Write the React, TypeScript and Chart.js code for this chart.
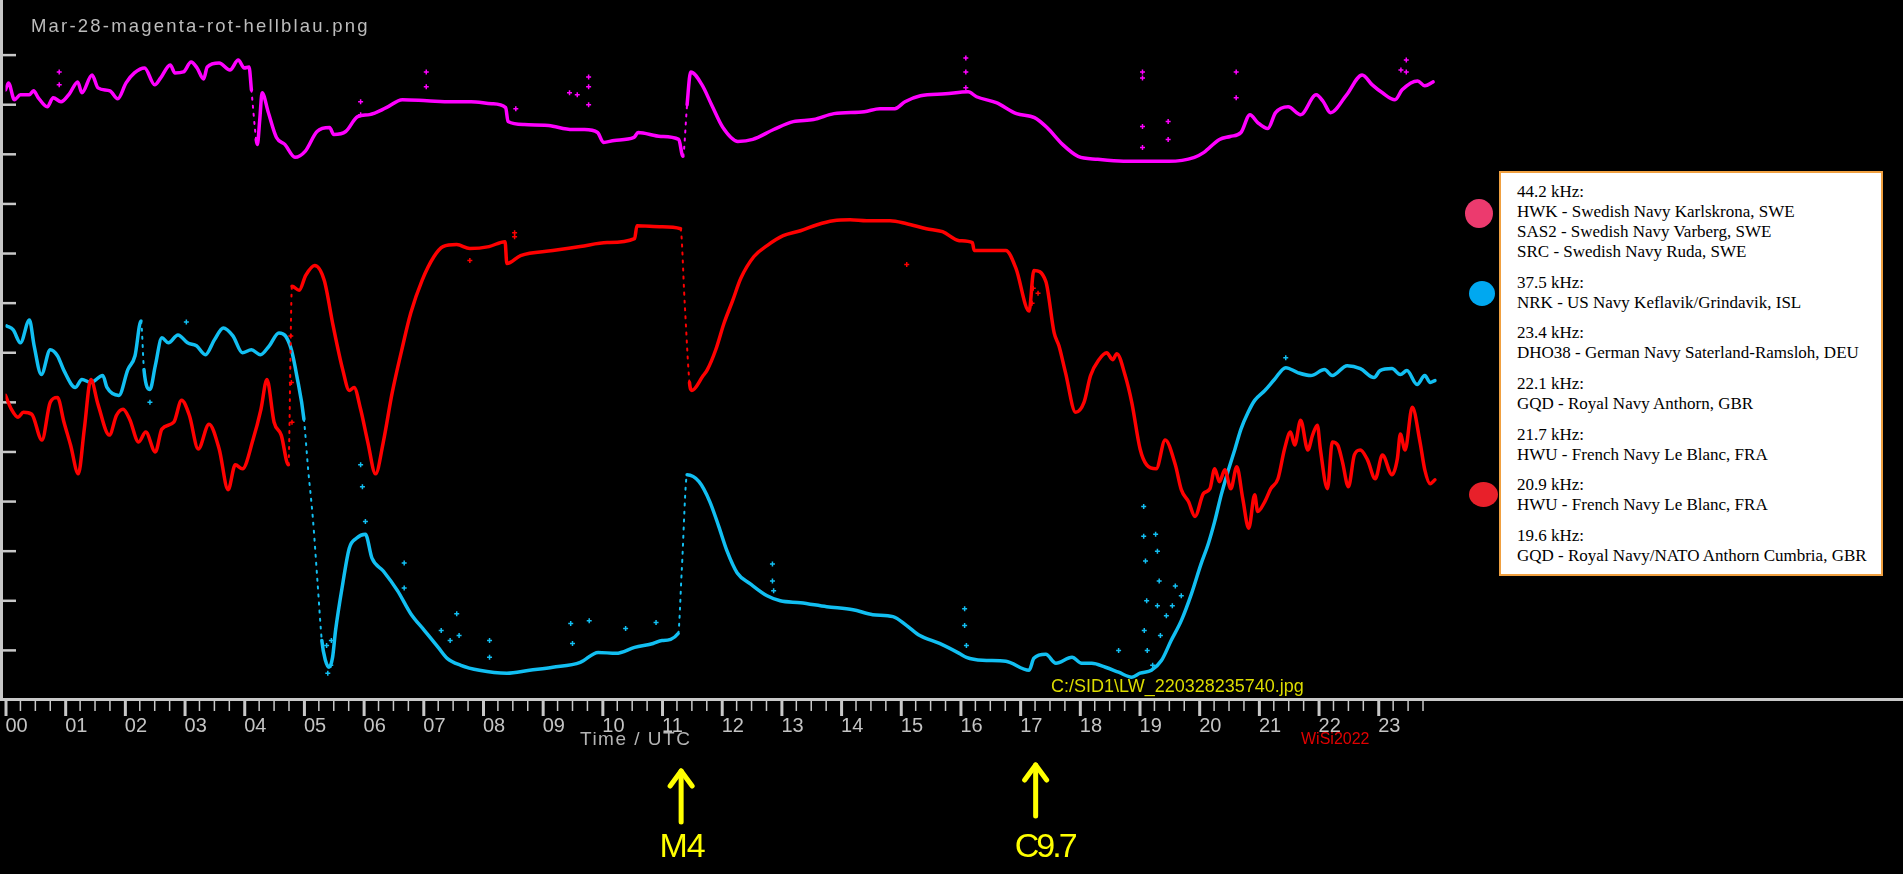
import { useEffect, useRef } from 'react';
import { Chart, registerables } from 'chart.js';

Chart.register(...registerables);

// ---------- data (x = hour UTC, y = relative signal level, 1 unit = one axis tick) ----------
const hourLabels = ['00','01','02','03','04','05','06','07','08','09','10','11','12','13','14','15','16','17','18','19','20','21','22','23'];

const magentaData: [number, number][] = [
  [0.00,12.30],[0.05,12.44],[0.15,12.10],[0.25,12.20],[0.40,12.20],[0.47,12.28],[0.55,12.14],[0.70,11.96],[0.80,12.14],[0.93,12.06],
  [1.07,12.22],[1.21,12.46],[1.28,12.24],[1.45,12.60],[1.55,12.34],[1.75,12.28],[1.88,12.12],[2.02,12.44],[2.16,12.64],[2.33,12.74],
  [2.50,12.40],[2.60,12.54],[2.76,12.80],[2.84,12.64],[2.98,12.66],[3.11,12.86],[3.21,12.74],[3.32,12.52],[3.38,12.76],[3.58,12.84],
  [3.76,12.70],[3.90,12.90],[4.00,12.74],[4.08,12.76],[4.12,12.30],[4.20,11.30],[4.22,11.20],[4.26,11.70],[4.30,12.24],[4.40,11.86],
  [4.54,11.34],[4.68,11.20],[4.85,10.94],[5.02,11.06],[5.22,11.46],[5.43,11.54],[5.50,11.40],[5.70,11.46],[5.90,11.76],[6.10,11.80],
  [6.38,11.94],[6.65,12.10],[7.06,12.08],[7.47,12.06],[7.80,12.06],[8.15,12.02],[8.38,11.94],[8.42,11.66],[8.69,11.60],[9.10,11.58],
  [9.50,11.50],[9.70,11.50],[9.92,11.44],[10.02,11.24],[10.20,11.28],[10.53,11.34],[10.60,11.44],[10.98,11.36],[11.28,11.30],[11.35,10.96],
  [11.42,12.00],[11.48,12.66],[11.67,12.40],[11.83,12.00],[12.02,11.54],[12.27,11.26],[12.52,11.30],[12.87,11.50],[13.20,11.66],[13.54,11.70],
  [13.88,11.82],[14.39,11.86],[14.65,11.92],[14.90,11.92],[15.07,12.06],[15.33,12.18],[15.75,12.22],[16.13,12.26],[16.27,12.16],[16.60,12.04],
  [16.94,11.82],[17.24,11.74],[17.45,11.54],[17.71,11.20],[17.97,10.96],[18.30,10.90],[18.73,10.86],[19.03,10.86],[19.49,10.86],[19.92,10.94],
  [20.08,11.04],[20.34,11.30],[20.52,11.36],[20.70,11.44],[20.85,11.80],[20.98,11.64],[21.15,11.52],[21.28,11.84],[21.49,11.96],[21.70,11.80],
  [21.96,12.20],[22.08,12.06],[22.20,11.84],[22.47,12.20],[22.73,12.60],[22.90,12.40],[23.07,12.24],[23.28,12.10],[23.40,12.30],[23.66,12.48],
  [23.78,12.38],[23.92,12.46],
];

const redData: [number, number][] = [
  [0.00,6.14],[0.10,5.86],[0.21,5.70],[0.30,5.80],[0.44,5.76],[0.61,5.24],[0.75,6.00],[0.87,6.10],[0.98,5.60],[1.09,5.14],
  [1.22,4.56],[1.32,5.46],[1.43,6.46],[1.55,5.96],[1.74,5.34],[1.86,5.74],[1.97,5.86],[2.08,5.66],[2.23,5.20],[2.35,5.40],
  [2.51,5.00],[2.62,5.46],[2.82,5.60],[2.95,6.04],[3.08,5.74],[3.23,5.06],[3.41,5.56],[3.58,5.06],[3.73,4.24],[3.85,4.74],
  [3.97,4.66],[4.15,5.26],[4.28,5.86],[4.38,6.46],[4.50,5.60],[4.62,5.34],[4.74,4.74],[4.80,8.34],[4.92,8.26],[5.03,8.56],
  [5.18,8.76],[5.34,8.46],[5.49,7.54],[5.65,6.66],[5.76,6.24],[5.84,6.30],[5.95,5.86],[6.07,5.20],[6.20,4.56],[6.33,5.20],
  [6.48,6.20],[6.64,7.06],[6.79,7.80],[6.98,8.46],[7.18,8.94],[7.33,9.14],[7.56,9.18],[7.78,9.10],[8.10,9.14],[8.37,9.24],
  [8.40,8.80],[8.63,8.96],[9.17,9.06],[9.63,9.14],[10.08,9.22],[10.54,9.30],[10.58,9.56],[11.00,9.54],[11.31,9.50],[11.38,8.00],
  [11.46,6.40],[11.50,6.24],[11.69,6.54],[11.76,6.66],[11.90,7.06],[12.04,7.60],[12.18,8.04],[12.32,8.50],[12.54,8.94],[12.76,9.16],
  [13.03,9.36],[13.32,9.46],[13.60,9.58],[13.87,9.66],[14.15,9.68],[14.43,9.66],[14.82,9.66],[15.10,9.60],[15.43,9.50],[15.70,9.44],
  [15.98,9.26],[16.20,9.22],[16.23,9.06],[16.76,9.06],[16.93,8.70],[17.15,7.84],[17.23,8.66],[17.43,8.44],[17.57,7.40],[17.65,7.14],
  [17.76,6.60],[17.93,5.80],[18.07,6.00],[18.18,6.54],[18.32,6.86],[18.45,7.00],[18.55,6.86],[18.62,6.98],[18.76,6.54],[18.87,6.00],
  [19.01,5.06],[19.12,4.74],[19.28,4.66],[19.43,5.24],[19.60,4.74],[19.70,4.24],[19.82,4.00],[19.93,3.70],[20.07,4.16],[20.18,4.26],
  [20.26,4.66],[20.34,4.40],[20.43,4.64],[20.53,4.26],[20.63,4.70],[20.73,4.06],[20.83,3.46],[20.93,4.14],[20.98,3.80],[21.10,4.00],
  [21.20,4.26],[21.32,4.46],[21.43,5.06],[21.53,5.40],[21.60,5.14],[21.70,5.64],[21.82,5.04],[21.90,5.34],[21.98,5.54],[22.03,5.06],
  [22.15,4.26],[22.23,5.20],[22.32,5.14],[22.40,4.80],[22.50,4.30],[22.60,4.94],[22.70,5.04],[22.82,4.84],[22.95,4.46],[23.07,4.94],
  [23.23,4.54],[23.32,4.86],[23.37,5.36],[23.45,5.04],[23.57,5.90],[23.70,5.20],[23.78,4.64],[23.87,4.36],[23.95,4.44],
];

const blueData: [number, number][] = [
  [0.02,7.54],[0.13,7.46],[0.25,7.20],[0.40,7.66],[0.48,7.14],[0.60,6.56],[0.75,7.06],[0.87,6.94],[0.98,6.64],[1.17,6.30],
  [1.28,6.46],[1.43,6.40],[1.63,6.54],[1.70,6.30],[1.90,6.14],[2.05,6.66],[2.17,6.94],[2.27,7.64],[2.32,6.66],[2.42,6.26],
  [2.51,6.74],[2.62,7.30],[2.73,7.20],[2.89,7.36],[3.05,7.20],[3.20,7.14],[3.35,6.96],[3.50,7.26],[3.65,7.50],[3.81,7.34],
  [3.97,7.00],[4.12,7.06],[4.27,6.96],[4.42,7.14],[4.58,7.40],[4.69,7.34],[4.79,7.06],[4.88,6.54],[5.00,5.66],[5.07,4.66],
  [5.15,3.66],[5.23,2.34],[5.30,1.20],[5.36,0.80],[5.42,0.66],[5.48,0.86],[5.53,1.40],[5.65,2.34],[5.76,3.06],[5.88,3.26],[6.03,3.34],[6.14,2.86],
  [6.33,2.60],[6.57,2.20],[6.79,1.74],[7.02,1.40],[7.25,1.06],[7.40,0.84],[7.63,0.70],[7.94,0.60],[8.40,0.54],[8.78,0.60],
  [9.17,0.66],[9.63,0.76],[9.93,0.96],[10.23,0.94],[10.54,1.06],[10.85,1.14],[11.00,1.20],[11.27,1.34],[11.33,2.60],[11.42,4.54],
  [11.62,4.40],[11.80,4.00],[11.95,3.50],[12.09,3.00],[12.26,2.56],[12.48,2.34],[12.76,2.10],[12.98,2.00],[13.32,1.96],[13.76,1.88],
  [14.20,1.82],[14.53,1.72],[14.87,1.68],[15.10,1.50],[15.32,1.30],[15.65,1.14],[15.98,0.94],[16.10,0.86],[16.37,0.80],[16.76,0.78],
  [17.15,0.60],[17.23,0.84],[17.43,0.92],[17.60,0.74],[17.87,0.86],[18.03,0.74],[18.20,0.74],[18.43,0.66],[18.65,0.56],[18.87,0.46],
  [19.01,0.54],[19.20,0.60],[19.37,0.80],[19.53,1.20],[19.70,1.60],[19.87,2.14],[20.03,2.74],[20.15,3.14],[20.26,3.60],[20.37,4.14],
  [20.48,4.60],[20.60,5.06],[20.70,5.46],[20.82,5.80],[20.93,6.04],[21.10,6.24],[21.26,6.46],[21.45,6.70],[21.65,6.60],[21.87,6.54],
  [22.10,6.66],[22.23,6.54],[22.48,6.74],[22.70,6.68],[22.93,6.50],[23.03,6.64],[23.23,6.68],[23.37,6.56],[23.48,6.64],[23.65,6.36],
  [23.78,6.54],[23.87,6.40],[23.95,6.44],
];

// isolated scattered readings
const magentaStray: [number, number][] = [
  [0.90,12.66],[0.90,12.40],[5.95,12.06],[5.95,11.80],[7.05,12.66],[7.05,12.36],[8.55,11.92],[9.45,12.24],[9.58,12.20],[9.77,12.56],
  [9.77,12.36],[9.77,12.00],[16.09,12.94],[16.09,12.66],[16.09,12.34],[19.05,12.66],[19.05,12.54],[19.05,11.56],[19.05,11.14],[19.48,11.66],
  [19.48,11.30],[20.62,12.66],[20.62,12.14],[23.38,12.70],[23.47,12.90],[23.47,12.66],
];
const redStray: [number, number][] = [
  [7.78,8.86],[8.53,9.34],[8.53,9.42],[15.10,8.78],[17.20,8.00],[17.22,8.30],[17.30,8.20],[4.78,7.34],[4.79,6.40],[4.80,5.60],
];
const blueStray: [number, number][] = [
  [2.42,6.00],[3.03,7.62],[5.95,4.74],[5.98,4.30],[6.03,3.60],[5.40,0.54],[5.45,0.70],[5.38,1.10],[5.46,1.20],[6.68,2.76],[6.68,2.26],[7.30,1.40],
  [7.45,1.20],[7.56,1.74],[7.60,1.30],[8.11,1.20],[8.11,0.86],[9.47,1.54],[9.50,1.14],[9.78,1.60],[10.39,1.44],[10.90,1.56],
  [12.85,2.74],[12.85,2.40],[12.87,2.20],[16.07,1.84],[16.07,1.50],[16.10,1.10],[18.65,1.00],[19.07,3.90],[19.07,3.30],[19.10,2.80],
  [19.12,2.00],[19.08,1.40],[19.13,1.00],[19.27,3.34],[19.30,3.00],[19.33,2.40],[19.30,1.90],[19.35,1.30],[19.22,0.70],[19.45,1.70],
  [19.55,1.90],[19.60,2.30],[19.70,2.10],[21.45,6.90],
];

const flareTimes = [11.32, 17.26];
const flareLabels = ['M4', 'C9.7'];

const legendFreqs = ['44.2 kHz:', '37.5 kHz:', '23.4 kHz:', '22.1 kHz:', '21.7 kHz:', '20.9 kHz:', '19.6 kHz:'];
const legendStations = [
  ['HWK - Swedish Navy Karlskrona, SWE', 'SAS2 - Swedish Navy Varberg, SWE', 'SRC - Swedish Navy Ruda, SWE'],
  ['NRK - US Navy Keflavik/Grindavik, ISL'],
  ['DHO38 - German Navy Saterland-Ramsloh, DEU'],
  ['GQD - Royal Navy Anthorn, GBR'],
  ['HWU - French Navy Le Blanc, FRA'],
  ['HWU - French Navy Le Blanc, FRA'],
  ['GQD - Royal Navy/NATO Anthorn Cumbria, GBR'],
];

const W = 1903;
const H = 874;
const MAGENTA = '#ff00ff';
const RED = '#ff0000';
const BLUE = '#12bff2';
const AXIS = '#c8c8c8';

export default function App() {
  const ref = useRef<HTMLCanvasElement>(null);

  useEffect(() => {
    document.body.style.margin = '0';
    document.body.style.background = '#000';
    const toXY = (a: [number, number][]) => a.map(([x, y]) => ({ x, y }));
    const steep = (c: any) => {
      const dx = Math.abs(c.p1.x - c.p0.x);
      const dy = Math.abs(c.p1.y - c.p0.y);
      return dy > 48 && dy > 9 * dx;
    };
    const mainDs = (label: string, data: [number, number][], color: string) => ({
      label,
      data: toXY(data),
      borderColor: color,
      backgroundColor: color,
      borderWidth: 3.5,
      pointRadius: 0,
      cubicInterpolationMode: 'monotone',
      fill: false,
      borderJoinStyle: 'round',
      borderCapStyle: 'round',
      segment: {
        borderDash: (c: any) => (steep(c) ? [2, 6] : undefined),
        borderWidth: (c: any) => (steep(c) ? 2 : undefined),
      },
    });
    const strayDs = (label: string, data: [number, number][], color: string) => ({
      label,
      data: toXY(data),
      showLine: false,
      pointStyle: 'cross',
      pointRadius: 2.5,
      pointBorderWidth: 1.5,
      borderColor: color,
      backgroundColor: color,
    });

    const decor = {
      id: 'decor',
      beforeDatasetsDraw(chart: any) {
        const ctx = chart.ctx;
        const xs = chart.scales.x;
        const ys = chart.scales.y;
        const y0 = ys.getPixelForValue(0);
        ctx.save();
        ctx.strokeStyle = AXIS;
        ctx.lineCap = 'butt';
        // y axis
        ctx.lineWidth = 3;
        ctx.beginPath();
        ctx.moveTo(1.5, 0);
        ctx.lineTo(1.5, y0 + 1);
        ctx.stroke();
        ctx.lineWidth = 2.5;
        for (let v = 1; v <= 13; v++) {
          const py = ys.getPixelForValue(v);
          ctx.beginPath();
          ctx.moveTo(0, py);
          ctx.lineTo(16, py);
          ctx.stroke();
        }
        // x axis
        ctx.lineWidth = 3;
        ctx.beginPath();
        ctx.moveTo(0, y0 - 0.5);
        ctx.lineTo(W, y0 - 0.5);
        ctx.stroke();
        for (let q = 0; q < hourLabels.length * 4; q++) {
          const px = xs.getPixelForValue(q / 4);
          const major = q % 4 === 0;
          ctx.lineWidth = major ? 3 : 1.5;
          ctx.beginPath();
          ctx.moveTo(px + (major ? 0.5 : 0), y0 + 1);
          ctx.lineTo(px + (major ? 0.5 : 0), y0 + (major ? 16 : 11));
          ctx.stroke();
        }
        ctx.restore();
      },
      afterDraw(chart: any) {
        const ctx = chart.ctx;
        const xs = chart.scales.x;
        ctx.save();
        ctx.textBaseline = 'alphabetic';
        // hour labels
        ctx.fillStyle = '#c4c4c4';
        ctx.font = '20px "Liberation Sans", Arial, sans-serif';
        ctx.textAlign = 'left';
        hourLabels.forEach((lab, i) => {
          ctx.fillText(lab, xs.getPixelForValue(i), 732);
        });
        // axis title
        ctx.fillStyle = '#b4b4b4';
        (ctx as any).letterSpacing = '1.5px';
        ctx.font = '19px "Liberation Sans", Arial, sans-serif';
        ctx.fillText('Time / UTC', 580, 745);
        // chart title
        (ctx as any).letterSpacing = '2.2px';
        ctx.font = '18.5px "Liberation Sans", Arial, sans-serif';
        ctx.fillStyle = '#bcbcbc';
        ctx.fillText('Mar-28-magenta-rot-hellblau.png', 31, 32);
        // file name
        (ctx as any).letterSpacing = '0px';
        ctx.font = '18px "Liberation Sans", Arial, sans-serif';
        ctx.fillStyle = '#dcdc00';
        ctx.fillText('C:/SID1\\LW_220328235740.jpg', 1051, 692);
        // credit
        ctx.font = '16px "Liberation Sans", Arial, sans-serif';
        ctx.fillStyle = '#e00000';
        ctx.fillText('WiSi2022', 1301, 744);
        // flare arrows
        ctx.strokeStyle = '#ffff00';
        ctx.fillStyle = '#ffff00';
        ctx.lineWidth = 5;
        ctx.lineCap = 'round';
        ctx.lineJoin = 'round';
        flareTimes.forEach((t, i) => {
          const px = xs.getPixelForValue(t);
          const top = i === 0 ? 771 : 765;
          const bottom = i === 0 ? 822 : 816;
          ctx.beginPath();
          ctx.moveTo(px, bottom);
          ctx.lineTo(px, top);
          ctx.stroke();
          ctx.beginPath();
          ctx.moveTo(px - 11, top + 15);
          ctx.lineTo(px, top);
          ctx.lineTo(px + 11, top + 15);
          ctx.stroke();
          ctx.font = '34px "Liberation Sans", Arial, sans-serif';
          (ctx as any).letterSpacing = i === 0 ? '-1px' : '-3px';
          ctx.textAlign = 'center';
          ctx.fillText(flareLabels[i], px + (i === 0 ? 1 : 9), 857);
        });
        ctx.restore();
      },
    };

    const chart = new Chart(ref.current as HTMLCanvasElement, {
      type: 'line',
      data: {
        datasets: [
          strayDs('44.2 kHz stray', magentaStray, MAGENTA),
          strayDs('20.9 kHz stray', redStray, RED),
          strayDs('37.5 kHz stray', blueStray, BLUE),
          mainDs('44.2 kHz', magentaData, MAGENTA),
          mainDs('20.9 kHz', redData, RED),
          mainDs('37.5 kHz', blueData, BLUE),
        ] as any,
      },
      options: {
        responsive: false,
        animation: false,
        events: [],
        layout: { padding: { left: 1, right: 0, top: 0, bottom: 174 } },
        scales: {
          x: { type: 'linear', min: 0, max: 31.7, display: false },
          y: { type: 'linear', min: 0, max: 14, display: false },
        },
        plugins: {
          legend: { display: false },
          tooltip: { enabled: false },
          title: { display: false },
        },
      } as any,
      plugins: [decor],
    });
    return () => chart.destroy();
  }, []);

  const dots = [
    { left: 1465, top: 199, w: 28, h: 29, c: '#ec3a6e' },
    { left: 1469, top: 281, w: 26, h: 25, c: '#00a8f0' },
    { left: 1469, top: 482, w: 29, h: 25, c: '#e8202a' },
  ];

  return (
    <div style={{ position: 'fixed', left: 0, top: 0, width: W, height: H, background: '#000', overflow: 'hidden' }}>
      <canvas ref={ref} width={W} height={H} style={{ display: 'block', width: W, height: H }} />
      {dots.map((d, i) => (
        <div key={i} style={{ position: 'absolute', left: d.left, top: d.top, width: d.w, height: d.h, borderRadius: '50%', background: d.c }} />
      ))}
      <div
        style={{
          position: 'absolute',
          left: 1499,
          top: 171,
          width: 384,
          height: 405,
          boxSizing: 'border-box',
          background: '#fff',
          border: '2px solid #f0a040',
          padding: '9px 0 0 16px',
          fontFamily: '"Liberation Serif", "Times New Roman", serif',
          fontSize: 17,
          lineHeight: '20px',
          color: '#000',
          whiteSpace: 'nowrap',
        }}
      >
        {legendFreqs.map((f, i) => (
          <div key={i} style={{ marginBottom: 10.7 }}>
            <div>{f}</div>
            {legendStations[i].map((s, j) => (
              <div key={j}>{s}</div>
            ))}
          </div>
        ))}
      </div>
    </div>
  );
}
